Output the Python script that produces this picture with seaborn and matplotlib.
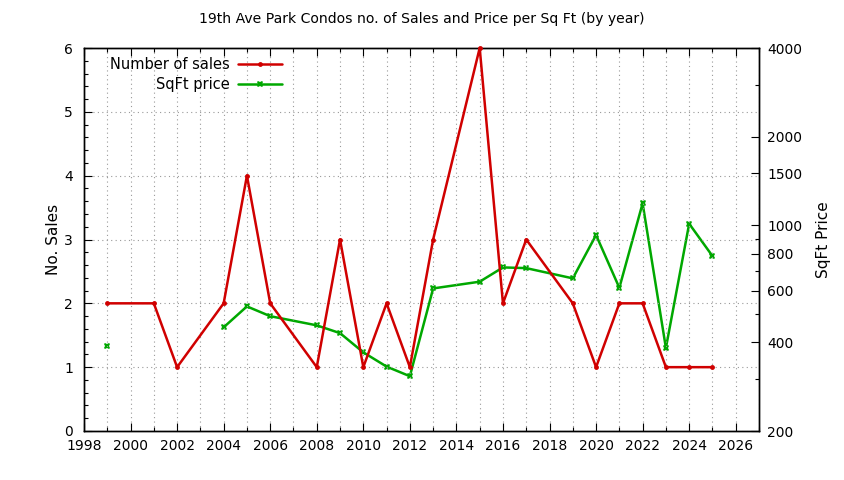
import numpy as np
import pandas as pd
import matplotlib
matplotlib.use('Agg')
import matplotlib.pyplot as plt
from matplotlib.lines import Line2D
from matplotlib.ticker import MultipleLocator, FixedLocator, FixedFormatter, NullFormatter
import seaborn as sns

# data
sales_years = [1999, 2001, 2002, 2004, 2005, 2006, 2008, 2009, 2010, 2011, 2012,
               2013, 2015, 2016, 2017, 2019, 2020, 2021, 2022, 2023, 2024, 2025]
sales = [2, 2, 1, 2, 4, 2, 1, 3, 1, 2, 1, 3, 6, 2, 3, 2, 1, 2, 2, 1, 1, 1]

price_years = [1999, 2004, 2005, 2006, 2008, 2009, 2010, 2011, 2012, 2013, 2015,
               2016, 2017, 2019, 2020, 2021, 2022, 2023, 2024, 2025]
price = [389, 450, 530, 491, 457, 430, 370, 331, 307, 610, 643,
         719, 715, 660, 926, 613, 1187, 383, 1012, 786]
# gnuplot breaks the line where years are missing (2000-2003)
price_segment = [0] + [1] * (len(price_years) - 1)

price_ticks = [200, 400, 600, 800, 1000, 1500, 2000, 4000]
price_minor = [300, 500, 700, 900, 3000]

red = '#d00000'
green = '#00a800'

df_sales = pd.DataFrame({'year': sales_years, 'sales': sales})
df_price = pd.DataFrame({'year': price_years, 'price': price, 'seg': price_segment})

sns.set_theme(style='white')
plt.rcParams['font.family'] = ['DejaVu Sans']
plt.rcParams['text.color'] = 'black'
plt.rcParams['axes.labelcolor'] = 'black'
plt.rcParams['xtick.color'] = 'black'
plt.rcParams['ytick.color'] = 'black'

fig = plt.figure(figsize=(8.44, 4.8), dpi=100)
ax = fig.add_axes([84 / 844, 1 - 431 / 480, (759 - 84) / 844, (431 - 48) / 480])
ax2 = ax.twinx()

sns.lineplot(data=df_price, x='year', y='price', units='seg', estimator=None,
             ax=ax2, color=green, lw=1.8, marker='X', markersize=5,
             markeredgewidth=0, legend=False, clip_on=False)
sns.lineplot(data=df_sales, x='year', y='sales', ax=ax, color=red, lw=1.8,
             marker='o', markersize=3.5, markeredgewidth=0, legend=False,
             clip_on=False, zorder=5)
ax.set_zorder(ax2.get_zorder() + 1)
ax.patch.set_visible(False)

ax.set_xlim(1998, 2027)
ax.set_ylim(0, 6)
ax2.set_yscale('log')
ax2.set_ylim(200, 4000)

ax.xaxis.set_major_locator(MultipleLocator(2))
ax.xaxis.set_minor_locator(MultipleLocator(1))
ax.yaxis.set_major_locator(MultipleLocator(1))
ax.yaxis.set_minor_locator(MultipleLocator(0.2))
ax2.yaxis.set_major_locator(FixedLocator(price_ticks))
ax2.yaxis.set_major_formatter(FixedFormatter([str(t) for t in price_ticks]))
ax2.yaxis.set_minor_locator(FixedLocator(price_minor))
ax2.yaxis.set_minor_formatter(NullFormatter())

ax.tick_params(axis='x', which='both', direction='in', top=True, bottom=True,
               labelsize=10, pad=6)
ax.tick_params(axis='x', which='major', length=6, width=0.8)
ax.tick_params(axis='x', which='minor', length=3, width=0.8)
ax.tick_params(axis='y', which='both', direction='in', left=True, right=False,
               labelsize=10, pad=8)
ax.tick_params(axis='y', which='major', length=6, width=0.8)
ax.tick_params(axis='y', which='minor', length=3, width=0.8)
ax2.tick_params(axis='y', which='both', direction='in', right=True,
                labelsize=10, pad=6)
ax2.tick_params(axis='y', which='major', length=6, width=0.8)
ax2.tick_params(axis='y', which='minor', length=3, width=0.8)

ax.grid(True, axis='x', which='both', linestyle=(0, (1, 3)), color='#999999', lw=0.8)
ax.grid(True, axis='y', which='major', linestyle=(0, (1, 3)), color='#999999', lw=0.8)
ax2.grid(False)

for a in (ax, ax2):
    for s in a.spines.values():
        s.set_color('black')
        s.set_linewidth(1.0)

ax.set_xlabel('')
ax.set_ylabel('No. Sales', fontsize=11, labelpad=2)
ax2.set_ylabel('SqFt Price', fontsize=11, labelpad=10)
fig.suptitle('19th Ave Park Condos no. of Sales and Price per Sq Ft (by year)',
             fontsize=10.1, y=0.975)

handles = [
    Line2D([], [], color=red, lw=1.8, marker='o', markersize=3.5, markeredgewidth=0),
    Line2D([], [], color=green, lw=1.8, marker='X', markersize=5, markeredgewidth=0),
]
ax.legend(handles, ['Number of sales', 'SqFt price'], loc='upper left',
          bbox_to_anchor=(0.025, 1.0), frameon=False, markerfirst=False,
          handlelength=3.0, handletextpad=0.6, labelspacing=0.35, fontsize=10.5,
          borderaxespad=0.2)

fig.savefig('out.png', dpi=100)
